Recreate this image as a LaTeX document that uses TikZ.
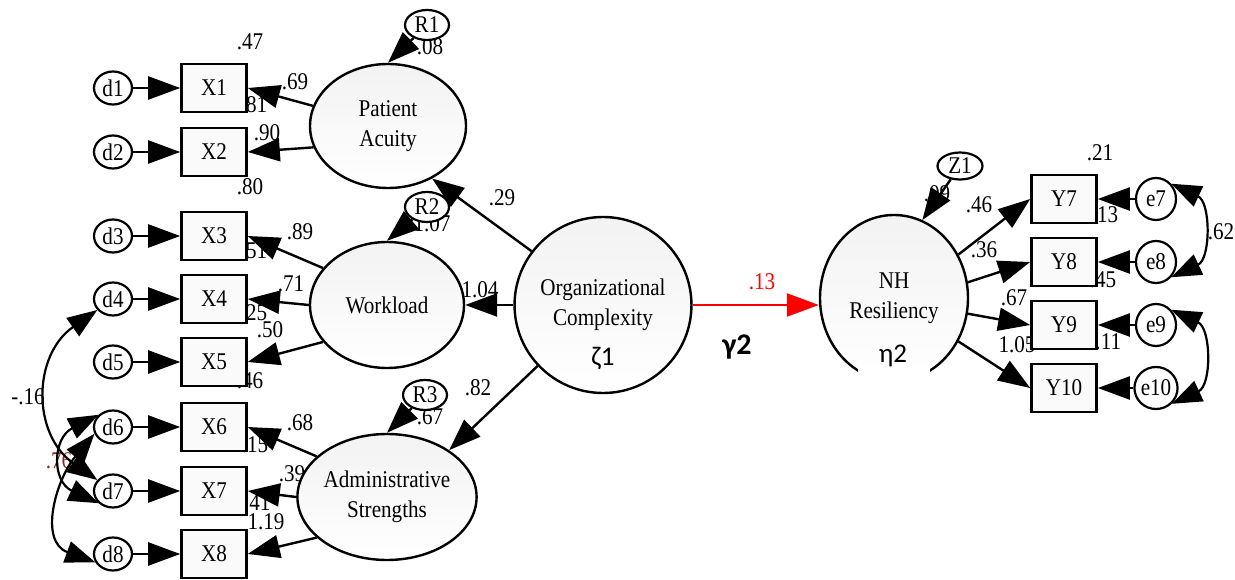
\documentclass[tikz,border=0pt]{standalone}
\usepackage{fontspec}
\setmainfont{Liberation Serif}[FakeStretch=0.88]
\newfontfamily\grk{Carlito}
\usetikzlibrary{arrows.meta,shapes.geometric}

\definecolor{pathred}{RGB}{255,0,0}
\definecolor{covred}{RGB}{155,35,35}

\begin{document}
\begin{tikzpicture}[x=1pt,y=1pt,
  font=\fontsize{24}{30}\selectfont,
  conn/.style={-{Triangle[length=32pt,width=23pt]},line width=2.4pt},
  cov/.style={{Triangle[length=30pt,width=22pt]}-{Triangle[length=30pt,width=22pt]},line width=2.2pt},
  latent/.style={draw,ellipse,line width=2.4pt,top color=black!5,bottom color=white,inner sep=0pt,align=center},
  obs/.style={draw,rectangle,line width=2.6pt,fill=black!2,minimum width=65pt,minimum height=48pt,inner sep=0pt},
  err/.style={draw,ellipse,line width=2.2pt,fill=white,minimum width=38pt,minimum height=33pt,inner sep=0pt},
  errtall/.style={err,minimum width=40pt,minimum height=42pt},
  res/.style={draw,ellipse,line width=2.2pt,fill=white,minimum width=44pt,minimum height=30pt,inner sep=0pt},
  est/.style={inner sep=0pt},
  greek/.style={inner sep=0pt,font=\grk\fontsize{27}{30}\selectfont},
]
\useasboundingbox (0,0) rectangle (1235,-580);

% estimates (placed first so that shapes and arrows sit above them)
\node[est] (v1)  at (250,-42)  {.47};
\node[est] (w1)  at (295,-82)  {.69};
\node[est] (v2)  at (254,-105) {.81};
\node[est] (w2)  at (267,-133) {.90};
\node[est] (v3)  at (250,-187) {.80};
\node[est] (r1v) at (430,-47)  {.08};
\node[est] (w3)  at (300,-232) {.89};
\node[est] (v4)  at (254,-251) {.51};
\node[est] (w4)  at (291,-284) {.71};
\node[est] (v5)  at (254,-313) {.25};
\node[est] (w5)  at (270,-330) {.50};
\node[est] (r2v) at (432,-224) {1.07};
\node[est] (g2)  at (480,-290) {1.04};
\node[est] (v6)  at (250,-381) {.46};
\node[est] (w6)  at (300,-423) {.68};
\node[est] (v7)  at (255,-445) {.15};
\node[est] (w7)  at (292,-474) {.39};
\node[est] (v8)  at (252,-503) {1.41};
\node[est] (w8)  at (266,-522) {1.19};
\node[est] (r3v) at (430,-417) {.67};
\node[est] (g3)  at (478,-388) {.82};
\node[est] (g1)  at (502,-198) {.29};
\node[est,text=pathred] (b1) at (762,-282) {.13};
\node[est] (c1)  at (28,-397)  {-.16};
\node[est,text=covred] (c2) at (59,-461) {.76};
\node[est] (u7)  at (1100,-153) {.21};
\node[est] (z1v) at (937,-194) {.09};
\node[est] (l7)  at (979,-205) {.46};
\node[est] (u8)  at (1105,-215) {.13};
\node[est] (l8)  at (984,-250) {.36};
\node[est] (u9)  at (1103,-280) {.45};
\node[est] (l9)  at (1014,-298) {.67};
\node[est] (l10) at (1017,-345) {1.05};
\node[est] (u10) at (1103,-342) {1.11};
\node[est] (c3)  at (1221,-232) {.62};

% indicators and their error terms
\foreach \i/\y in {1/88,2/152,3/236,4/299,5/362,6/427,7/491,8/554}{
  \node[err] (d\i) at (113,-\y) {d\i};
  \node[obs] (X\i) at (214,-\y) {X\i};
}
\foreach \i/\y in {7/199,8/262,9/325,10/388}{
  \node[obs] (Y\i) at (1064,-\y) {Y\i};
  \node[errtall] (e\i) at (1156,-\y) {e\i};
}

% latent variables
\node[latent,minimum width=156pt,minimum height=124pt] (PA) at (388,-126) {Patient\\Acuity};
\node[latent,minimum width=154pt,minimum height=126pt] (WL) at (387,-305) {Workload};
\node[latent,minimum width=156pt,minimum height=126pt] (AS) at (387,-497) {Administrative\\Strengths};
\node[latent,minimum width=148pt,minimum height=176pt] (OC) at (603,-305) {Organizational\\Complexity};
\node[latent,minimum width=148pt,minimum height=166pt] (NH) at (894,-298) {NH\\Resiliency};

% disturbances
\node[res] (R1) at (427,-25)  {R1};
\node[res] (R2) at (427,-207) {R2};
\node[res] (R3) at (425,-395) {R3};
\node[res,minimum width=45pt,minimum height=27pt] (Z1) at (960,-166) {Z1};

% greek symbols; the text box of eta2 hides the bottom of its ellipse
\fill[white] (858,-367) rectangle (930,-386);
\node[greek] (zeta) at (603,-358) {ζ1};
\node[greek] (eta) at (893,-356) {η2};
\node[greek,font=\grk\bfseries\fontsize{30}{30}\selectfont] (gam) at (737,-347) {γ2};

% measurement paths
\foreach \i in {1,...,8}{ \draw[conn] (d\i) -- (X\i); }
\foreach \i in {7,8,9,10}{ \draw[conn] (e\i) -- (Y\i); }
\draw[conn] (PA.165) -- (X1.east);
\draw[conn] (PA.196) -- (X2.east);
\draw[conn] (WL.150) -- (X3.east);
\draw[conn] (WL.180) -- (X4.east);
\draw[conn] (WL.210) -- (X5.east);
\draw[conn] (AS.150) -- (X6.east);
\draw[conn] (AS.180) -- (X7.east);
\draw[conn] (AS.210) -- (X8.east);
\draw[conn] (NH.34)  -- (Y7.west);
\draw[conn] (NH.12)  -- (Y8.west);
\draw[conn] (NH.-12) -- (Y9.west);
\draw[conn] (NH.-34) -- (Y10.west);

% structural paths
\draw[conn] (OC.143) -- (PA.310);
\draw[conn] (OC.west) -- (WL.east);
\draw[conn] (OC.223) -- (AS.37);
\draw[conn,draw=pathred,fill=pathred] (OC.east) -- (OC.east -| NH.west);
\draw[conn] (R1) -- (PA.north);
\draw[conn] (R2) -- (WL.north);
\draw[conn] (R3) -- (AS.north);
\draw[conn] (Z1) -- (NH.70);

% covariances between errors
\draw[cov] (d4.215) to[out=215,in=145,looseness=1.2] (d7.145);
\draw[cov] (d6.200) to[out=230,in=160,looseness=1.2] (d8.205);
\draw[cov] (d6.140) to[out=207,in=155,looseness=1.5] (d7.220);
\draw[cov] (e7.45) to[out=-25,in=25,looseness=1.2] (e8.-45);
\draw[cov] (e9.45) to[out=-25,in=25,looseness=1.2] (e10.-45);
\end{tikzpicture}
\end{document}
